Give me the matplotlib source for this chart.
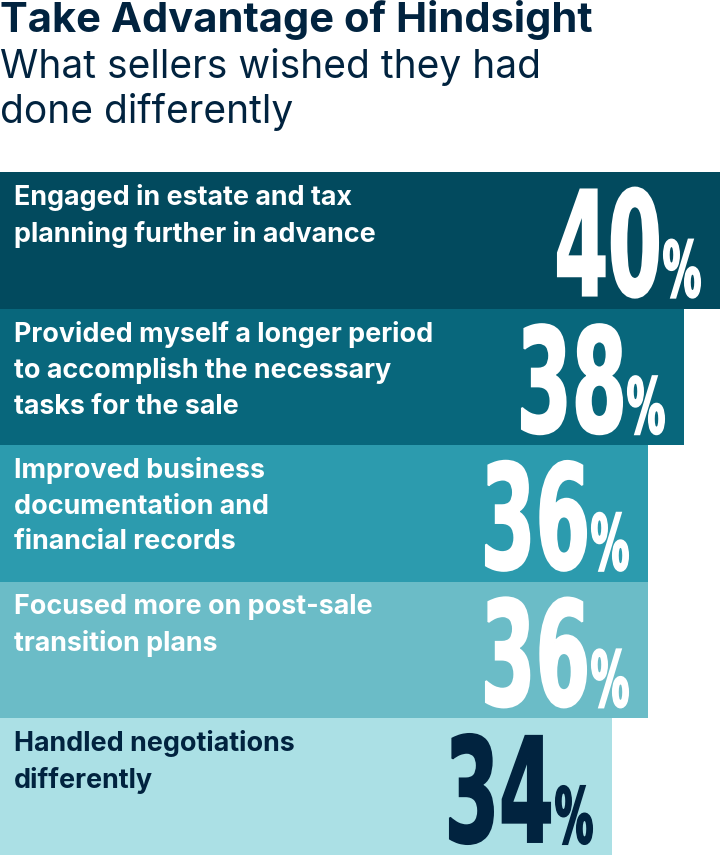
import matplotlib
matplotlib.use("Agg")
import matplotlib.pyplot as plt
from matplotlib.textpath import TextPath
from matplotlib.patches import PathPatch
from matplotlib.font_manager import FontProperties
from matplotlib.transforms import Affine2D

# data
labels = [
    "Engaged in estate and tax\nplanning further in advance",
    "Provided myself a longer period\nto accomplish the necessary\ntasks for the sale",
    "Improved business\ndocumentation and\nfinancial records",
    "Focused more on post-sale\ntransition plans",
    "Handled negotiations\ndifferently",
]
values = [40, 38, 36, 36, 34]
colors = ["#024a5e", "#08677c", "#2c9bae", "#6bbcc7", "#abe0e5"]
txt_colors = ["white", "white", "white", "white", "#01233f"]

navy = "#01233f"
W, H = 720, 855

fig = plt.figure(figsize=(W / 100, H / 100), dpi=100)
top_bars = 172
ax = fig.add_axes([0, 0, 1, (H - top_bars) / H])
ax.set_xlim(0, 40)
ax.set_ylim(len(values) - 0.5, -0.5)
ax.axis("off")

ax.barh(range(len(values)), values, height=1.0, color=colors, edgecolor="none")

# title block (pixel positions from top)
fig.text(0, 1 - 32 / H, "Take Advantage of Hindsight", fontsize=30,
         fontweight="bold", family="Inter", color=navy, va="baseline")
fig.text(0, 1 - 78 / H, "What sellers wished they had", fontsize=28,
         family="Inter", color=navy, va="baseline")
fig.text(0, 1 - 123 / H, "done differently", fontsize=28,
         family="Inter", color=navy, va="baseline")

lab_font = FontProperties(family="Inter", weight="bold", size=19.4)
num_font = FontProperties(family="DejaVu Sans", weight="bold")


def condensed(s, height, width):
    p = TextPath((0, 0), s, size=100, prop=num_font)
    ext = p.get_extents()
    sx = width / ext.width
    sy = height / ext.height
    t = Affine2D().translate(-ext.x0, -ext.y0).scale(sx, sy)
    return t.transform_path(p)


for i, (lab, v) in enumerate(zip(labels, values)):
    # label text
    ax.annotate(lab, xy=(0, i - 0.5), xycoords="data",
                xytext=(14, -12), textcoords="offset pixels",
                va="top", ha="left", color=txt_colors[i],
                fontproperties=lab_font, linespacing=1.47)

    # big number, drawn in pixel space
    x_end, y_bot = ax.transData.transform((v, i + 0.5))
    pct_right = x_end - 20
    pct_left = pct_right - 36
    base = y_bot + 11
    pct = condensed("%", 58, 36)
    digits = condensed(str(v), 110, 100)
    d_left = pct_left - 6 - 100
    for path, x0 in ((digits, d_left), (pct, pct_left)):
        pp = PathPatch(path, facecolor=txt_colors[i], edgecolor=txt_colors[i],
                       linewidth=1.5, joinstyle="miter",
                       transform=Affine2D().translate(x0, base))
        fig.add_artist(pp)

fig.savefig("out.png", dpi=100, facecolor="white")
